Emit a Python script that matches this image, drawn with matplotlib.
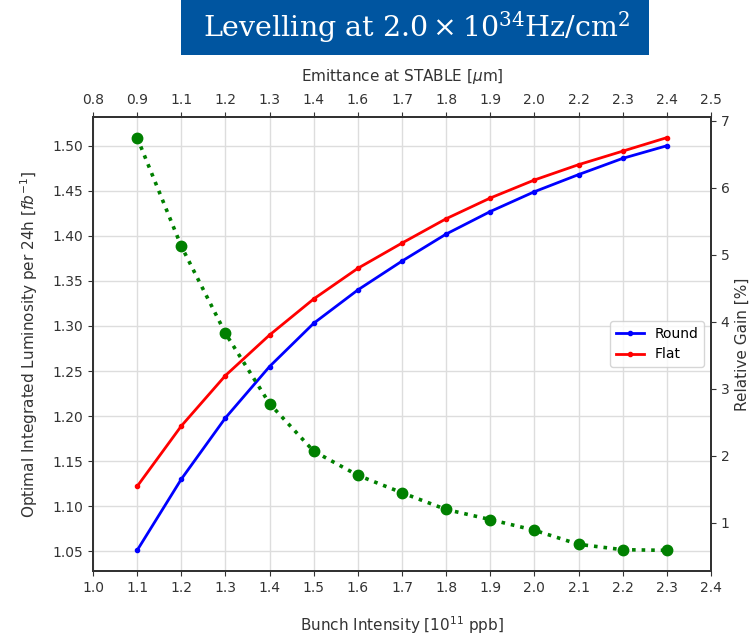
import numpy as np
import matplotlib.pyplot as plt
from matplotlib.patches import Rectangle

# bunch intensity [1e11 ppb]
intensity = [1.1, 1.2, 1.3, 1.4, 1.5, 1.6, 1.7, 1.8, 1.9, 2.0, 2.1, 2.2, 2.3]
# optimal integrated luminosity per 24h [fb^-1]
lumi_round = [1.051, 1.130, 1.198, 1.255, 1.303, 1.340, 1.372, 1.402, 1.427, 1.449, 1.468, 1.486, 1.500]
lumi_flat = [1.122, 1.189, 1.245, 1.290, 1.330, 1.364, 1.392, 1.419, 1.442, 1.462, 1.479, 1.494, 1.509]
# relative gain flat vs round [%]
gain = [6.75, 5.13, 3.83, 2.78, 2.07, 1.71, 1.45, 1.20, 1.05, 0.89, 0.68, 0.60, 0.59]

bottom_ticks = [1.0, 1.1, 1.2, 1.3, 1.4, 1.5, 1.6, 1.7, 1.8, 1.9, 2.0, 2.1, 2.2, 2.3, 2.4]
emittance_labels = ['0.8', '0.9', '1.1', '1.2', '1.3', '1.4', '1.6', '1.7',
                    '1.8', '1.9', '2.0', '2.2', '2.3', '2.4', '2.5']
lumi_ticks = [1.05, 1.10, 1.15, 1.20, 1.25, 1.30, 1.35, 1.40, 1.45, 1.50]

txt = '#333333'
plt.rcParams['axes.edgecolor'] = txt
plt.rcParams['axes.linewidth'] = 1.25
plt.rcParams['xtick.color'] = txt
plt.rcParams['ytick.color'] = txt
plt.rcParams['axes.labelcolor'] = txt

fig = plt.figure(figsize=(7.53, 6.39), dpi=100)
ax = fig.add_axes([93/753, 1-571/639, (711-93)/753, (571-117)/639])

ax.plot(intensity, lumi_round, '.-', color='blue', lw=2, ms=6, label='Round')
ax.plot(intensity, lumi_flat, '.-', color='red', lw=2, ms=6, label='Flat')
ax.set_xlim(1.0, 2.4)
ax.set_xticks(bottom_ticks)
ax.set_xticklabels(['%.1f' % t for t in bottom_ticks])
ax.set_yticks(lumi_ticks)
ax.set_yticklabels(['%.2f' % t for t in lumi_ticks])
ax.grid(True, color='#dddddd', lw=1)
ax.set_axisbelow(True)
ax.set_xlabel('Bunch Intensity [$10^{11}$ ppb]', fontsize=11, labelpad=14)
ax.set_ylabel('Optimal Integrated Luminosity per 24h [$fb^{-1}$]', fontsize=11, labelpad=9)
ax.legend(loc='center right', fontsize=10)

ax2 = ax.twinx()
ax2.plot(intensity, gain, 'o:', color='green', lw=2.6, ms=7.5)
ax2.set_ylabel('Relative Gain [%]', fontsize=11)

ax3 = ax.twiny()
ax3.set_xlim(ax.get_xlim())
ax3.set_xticks(bottom_ticks)
ax3.set_xticklabels(emittance_labels)
ax3.set_xlabel('Emittance at STABLE [$\\mu$m]', fontsize=11, labelpad=9)

fig.patches.append(Rectangle((181/753, 1-55/639), (649-181)/753, 55/639,
                             transform=fig.transFigure, facecolor='#0055a0',
                             edgecolor='none'))
fig.text(417/753, 1-27/639, 'Levelling at $2.0\\times10^{34}$Hz/cm$^2$',
         ha='center', va='center', color='white', fontsize=20.5,
         family='DejaVu Serif', math_fontfamily='dejavuserif')

fig.savefig('out.png', dpi=100)
